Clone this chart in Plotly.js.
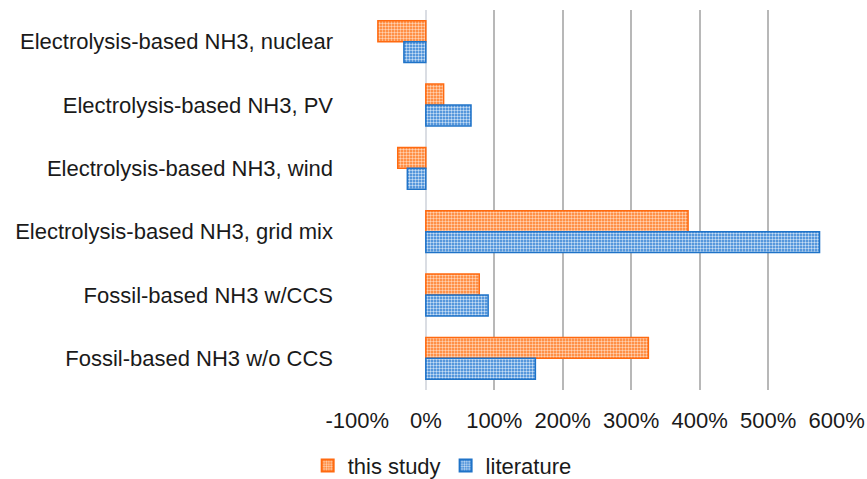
<!DOCTYPE html>
<html>
<head>
<meta charset="utf-8">
<script src="https://cdn.plot.ly/plotly-3.0.1.min.js"></script>
<style>html,body{margin:0;padding:0;background:#fff;}#chart{width:867px;height:479px;}</style>
</head>
<body>
<div id="chart"></div>
<script>
var categories = [
  "Electrolysis-based NH3, nuclear",
  "Electrolysis-based NH3, PV",
  "Electrolysis-based NH3, wind",
  "Electrolysis-based NH3, grid mix",
  "Fossil-based NH3 w/CCS",
  "Fossil-based NH3 w/o CCS"
];
var thisStudy = [-0.70, 0.26, -0.41, 3.83, 0.78, 3.25];
var literature = [-0.32, 0.66, -0.27, 5.75, 0.91, 1.60];
var tickVals = [-1, 0, 1, 2, 3, 4, 5, 6];
var tickText = ["-100%", "0%", "100%", "200%", "300%", "400%", "500%", "600%"];

var font = "Liberation Sans, Arial, sans-serif";

var traces = [
  {
    type: "bar", orientation: "h", name: "this study",
    y: categories, x: thisStudy,
    marker: {
      color: "#ff8a3d",
      line: {color: "#ff6a10", width: 1.5},
      pattern: {shape: ".", bgcolor: "#ff7a22", fgcolor: "#ffd2b3", size: 3, solidity: 0.5}
    },
    hoverinfo: "x+y"
  },
  {
    type: "bar", orientation: "h", name: "literature",
    y: categories, x: literature,
    marker: {
      color: "#3a8ad8",
      line: {color: "#1f73c8", width: 1.5},
      pattern: {shape: ".", bgcolor: "#2f80d4", fgcolor: "#c8def5", size: 3, solidity: 0.5}
    },
    hoverinfo: "x+y"
  }
];

var layout = {
  width: 867, height: 479,
  margin: {l: 357, r: 30, t: 10, b: 89},
  paper_bgcolor: "#fff", plot_bgcolor: "#fff",
  barmode: "group", bargap: 0.34, bargroupgap: 0,
  font: {family: font, size: 22, color: "#1a1a1a"},
  showlegend: true,
  legend: {
    orientation: "h", xref: "container", yref: "container",
    x: 0.51, xanchor: "center", y: 0.028, yanchor: "middle",
    font: {family: font, size: 22, color: "#1a1a1a"},
    itemwidth: 30, itemsizing: "constant"
  },
  xaxis: {
    range: [-1.005, 6.005],
    tickvals: tickVals, ticktext: tickText,
    showgrid: true, gridcolor: "#b8b8b8", gridwidth: 2,
    zeroline: true, zerolinecolor: "#dadde3", zerolinewidth: 2,
    showline: false, ticks: "",
    ticklabelstandoff: 15,
    tickfont: {family: font, size: 22, color: "#1a1a1a"},
    fixedrange: true
  },
  yaxis: {
    type: "category", autorange: "reversed",
    showgrid: false, zeroline: false, showline: false, ticks: "",
    ticklabelstandoff: 23,
    tickfont: {family: font, size: 22, color: "#1a1a1a"},
    fixedrange: true
  }
};

Plotly.newPlot("chart", traces, layout, {displayModeBar: false, staticPlot: true});
</script>
</body>
</html>
